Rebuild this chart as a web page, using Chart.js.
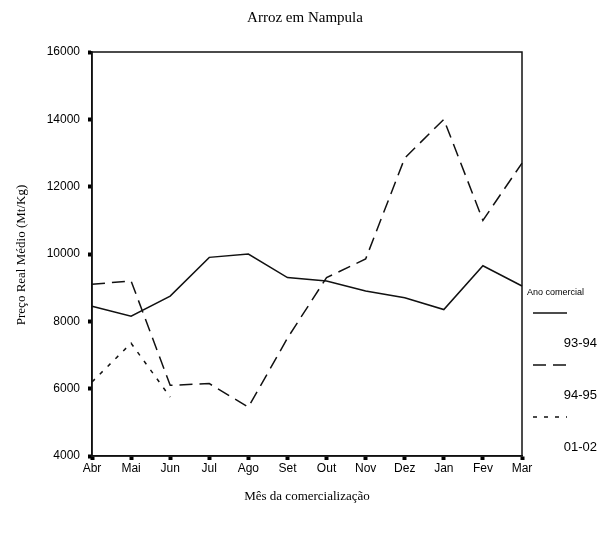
<!DOCTYPE html>
<html>
<head>
<meta charset="utf-8">
<script src="https://cdn.jsdelivr.net/npm/chart.js@4"></script>
<style>
  html, body { margin: 0; padding: 0; background: #fff; }
  #wrap { width: 612px; height: 537px; }
</style>
</head>
<body>
<div id="wrap"><canvas id="arroz" width="612" height="537"></canvas></div>
<script>
// Data (Mt/Kg)
const meses = ['Abr', 'Mai', 'Jun', 'Jul', 'Ago', 'Set', 'Out', 'Nov', 'Dez', 'Jan', 'Fev', 'Mar'];
const ano9394 = [8450, 8150, 8750, 9900, 10000, 9300, 9200, 8900, 8700, 8350, 9650, 9050];
const ano9495 = [9100, 9200, 6100, 6150, 5450, 7500, 9300, 9850, 12850, 14000, 11000, 12700];
const ano0102 = [6200, 7350, 5750, null, null, null, null, null, null, null, null, null];
const yTicks = [4000, 6000, 8000, 10000, 12000, 14000, 16000];

const ink = '#111';

// titles, box and the legend on the right
const extras = {
  id: 'extras',
  afterDraw(chart) {
    const ctx = chart.ctx;
    const a = chart.chartArea;
    ctx.save();
    ctx.strokeStyle = ink;
    ctx.lineWidth = 1.5;
    ctx.strokeRect(a.left, a.top, a.right - a.left, a.bottom - a.top);

    ctx.fillStyle = '#000';
    ctx.textAlign = 'center';
    ctx.textBaseline = 'middle';
    ctx.font = '15px "Liberation Serif"';
    ctx.fillText('Arroz em Nampula', 305, 18);
    ctx.font = '13px "Liberation Serif"';
    ctx.fillText('Mês da comercialização', 307, 497);
    ctx.save();
    ctx.translate(22, 255);
    ctx.rotate(-Math.PI / 2);
    ctx.fillText('Preço Real Médio (Mt/Kg)', 0, 0);
    ctx.restore();

    // legend
    ctx.textAlign = 'left';
    ctx.font = '9px "Liberation Sans"';
    ctx.fillText('Ano comercial', 527, 293);
    ctx.font = '13px "Liberation Sans"';
    ctx.textAlign = 'right';
    chart.data.datasets.forEach((ds, i) => {
      const y = 313 + i * 52;
      ctx.strokeStyle = ds.borderColor;
      ctx.lineWidth = ds.borderWidth;
      ctx.setLineDash(ds.borderDash || []);
      ctx.beginPath();
      ctx.moveTo(533, y);
      ctx.lineTo(567, y);
      ctx.stroke();
      ctx.setLineDash([]);
      ctx.fillText(ds.label, 597, y + 30);
    });
    ctx.restore();
  }
};

new Chart(document.getElementById('arroz'), {
  type: 'line',
  data: {
    labels: meses,
    datasets: [
      { label: '93-94', data: ano9394, borderColor: ink, borderWidth: 1.5, borderDash: [] },
      { label: '94-95', data: ano9495, borderColor: ink, borderWidth: 1.5, borderDash: [13, 7] },
      { label: '01-02', data: ano0102, borderColor: ink, borderWidth: 1.5, borderDash: [4, 7] }
    ]
  },
  options: {
    responsive: false,
    animation: false,
    spanGaps: false,
    elements: { point: { radius: 0 }, line: { tension: 0 } },
    layout: { padding: { top: 52, right: 90, left: 0, bottom: 0 } },
    plugins: {
      legend: { display: false },
      title: { display: false },
      tooltip: { enabled: false }
    },
    scales: {
      x: {
        offset: false,
        grid: { drawOnChartArea: false, tickLength: 4, tickWidth: 4, tickColor: '#000' },
        border: { color: ink, width: 1.5 },
        ticks: { color: '#000', font: { family: 'Liberation Sans', size: 12 }, padding: 1, maxRotation: 0, autoSkip: false },
        afterFit(scale) { scale.height = 537 - 456; }
      },
      y: {
        min: 4000,
        max: 16000,
        afterBuildTicks(scale) { scale.ticks = yTicks.map(v => ({ value: v })); },
        grid: { drawOnChartArea: false, tickLength: 4, tickWidth: 4, tickColor: '#000' },
        border: { color: ink, width: 1.5 },
        ticks: {
          color: '#000',
          font: { family: 'Liberation Sans', size: 12 },
          padding: 8,
          callback: v => String(v)
        },
        afterFit(scale) { scale.width = 92; }
      }
    }
  },
  plugins: [extras]
});
</script>
</body>
</html>
